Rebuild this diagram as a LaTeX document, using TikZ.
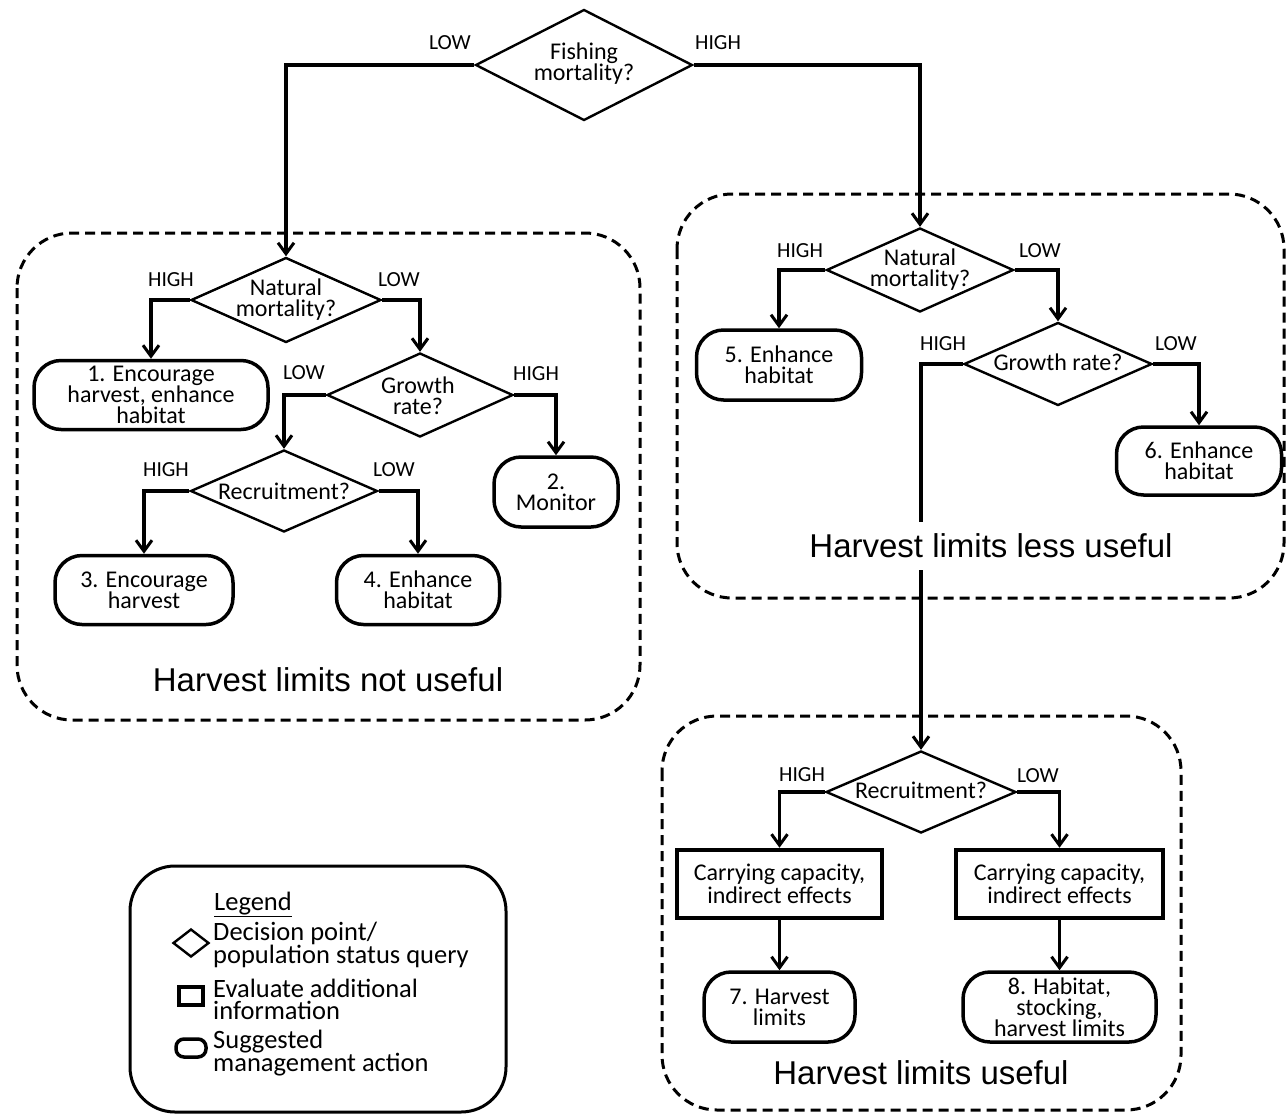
\documentclass[tikz,border=0pt]{standalone}
\usepackage{fontspec}
\setmainfont{Carlito}
\newfontfamily\titlefont{Liberation Sans}
\usetikzlibrary{shapes.geometric,arrows.meta}
\begin{document}
\begin{tikzpicture}[x=1pt,y=-1pt,
 dec/.style={diamond,draw,line width=2.4pt,inner sep=0pt},
 dtext/.style={inner sep=0pt,align=center,font=\fontsize{24}{21}\selectfont},
 act/.style={rectangle,draw,line width=3.5pt,rounded corners=27pt,inner sep=0pt,align=center,font=\fontsize{24}{21}\selectfont},
 info/.style={rectangle,draw,line width=4.5pt,inner sep=0pt,align=center,font=\fontsize{24}{23}\selectfont},
 lab/.style={font=\fontsize{21.5}{24}\selectfont,inner sep=0pt},
 ttl/.style={font=\titlefont\fontsize{33}{38}\selectfont,inner sep=3pt},
 conn/.style={line width=3.5pt,-{Straight Barb[length=11pt,width=16pt,line width=3pt]}},
 dbox/.style={line width=3pt,dash pattern=on 10pt off 6pt,rounded corners=55pt},
 leg/.style={font=\fontsize{26.5}{22}\selectfont,align=left,inner sep=0pt},
]
\useasboundingbox (0,0) rectangle (1287,1114);
\fill[white] (0,0) rectangle (1287,1114);

% dashed regions
\draw[dbox] (17,233) rectangle (640,720);
\draw[dbox] (677,194) rectangle (1284,598);
\draw[dbox] (662,716) rectangle (1181,1110);

% top decision
\node[dec,minimum width=217pt,minimum height=111pt] (fm) at (584,65) {};
\node[dtext] (fmt) at (584,64) {Fishing\\mortality?};
\node[lab] (lfmL) at (450,43) {LOW};
\node[lab] (lfmH) at (718,43) {HIGH};

% left region
\node[dec,minimum width=190pt,minimum height=85pt] (nm1) at (286,300) {};
\node[dtext] (nm1t) at (286,300) {Natural\\mortality?};
\node[lab] (lnm1H) at (171,280) {HIGH};
\node[lab] (lnm1L) at (399,280) {LOW};
\node[act,minimum width=234pt,minimum height=69pt] (a1) at (151,395) {1. Encourage\\harvest, enhance\\habitat};
\node[dec,minimum width=186pt,minimum height=84pt] (gr1) at (420,395) {};
\node[dtext] (gr1t) at (418,396) {Growth\\rate?};
\node[lab] (lgr1L) at (304,373) {LOW};
\node[lab] (lgr1H) at (536,374) {HIGH};
\node[act,minimum width=124pt,minimum height=70pt] (a2) at (556,492) {2.\\Monitor};
\node[dec,minimum width=187pt,minimum height=82pt] (rc1) at (284,491) {};
\node[dtext] (rc1t) at (284,491) {Recruitment?};
\node[lab] (lrc1H) at (166,470) {HIGH};
\node[lab] (lrc1L) at (394,470) {LOW};
\node[act,minimum width=178pt,minimum height=69pt] (a3) at (144,590) {3. Encourage\\harvest};
\node[act,minimum width=163pt,minimum height=69pt] (a4) at (418,590) {4. Enhance\\habitat};

% upper right region
\node[dec,minimum width=187pt,minimum height=84pt] (nm2) at (920,270) {};
\node[dtext] (nm2t) at (920,270) {Natural\\mortality?};
\node[lab] (lnm2H) at (800,251) {HIGH};
\node[lab] (lnm2L) at (1040,251) {LOW};
\node[act,minimum width=165pt,minimum height=70pt] (a5) at (779,365) {5. Enhance\\habitat};
\node[dec,minimum width=188pt,minimum height=83pt] (gr2) at (1058,364) {};
\node[dtext] (gr2t) at (1058,362) {Growth rate?};
\node[lab] (lgr2H) at (943,344) {HIGH};
\node[lab] (lgr2L) at (1176,344) {LOW};
\node[act,minimum width=165pt,minimum height=68pt] (a6) at (1199,461) {6. Enhance\\habitat};

% lower right region
\node[dec,minimum width=190pt,minimum height=82pt] (rc3) at (921,792) {};
\node[dtext] (rc3t) at (921,790) {Recruitment?};
\node[lab] (lrc3H) at (802,775) {HIGH};
\node[lab] (lrc3L) at (1038,776) {LOW};
\node[info,minimum width=205pt,minimum height=68pt] (b1) at (779.5,884) {Carrying capacity,\\indirect effects};
\node[info,minimum width=207pt,minimum height=68pt] (b2) at (1059.5,884) {Carrying capacity,\\indirect effects};
\node[act,minimum width=151pt,minimum height=70pt] (a7) at (779.5,1007) {7. Harvest\\limits};
\node[act,minimum width=193pt,minimum height=70pt] (a8) at (1059.5,1007) {8. Habitat,\\stocking,\\harvest limits};

% connectors
\draw[conn] (fm.west) -| (nm1.north);
\draw[conn] (fm.east) -| (nm2.north);
\draw[conn] (nm1.west) -| (a1.north);
\draw[conn] (nm1.east) -| (gr1.north);
\draw[conn] (gr1.west) -| (rc1.north);
\draw[conn] (gr1.east) -| (a2.north);
\draw[conn] (rc1.west) -| (a3.north);
\draw[conn] (rc1.east) -| (a4.north);
\draw[conn] (nm2.west) -| (a5.north);
\draw[conn] (nm2.east) -| (gr2.north);
\draw[conn] (gr2.east) -| (a6.north);
\draw[conn] (gr2.west) -| (rc3.north);
\draw[conn] (rc3.west) -| (b1.north);
\draw[conn] (rc3.east) -| (b2.north);
\draw[conn] (b1) -- (a7);
\draw[conn] (b2) -- (a8);

% titles
\node[ttl] (t1) at (328,680) {Harvest limits not useful};
\node[ttl,fill=white,inner ysep=12pt] (t2) at (991,546) {Harvest limits less useful};
\node[ttl] (t3) at (921,1073) {Harvest limits useful};

% legend
\draw[line width=3pt,rounded corners=45pt] (130,866) rectangle (506,1112);
\node[leg,anchor=base west] (lgt) at (214,910) {\underline{Legend}};
\node[diamond,draw,line width=2.4pt,minimum width=36pt,minimum height=28pt,inner sep=0pt] (ld) at (191,943) {};
\node[leg,anchor=west] (ldt) at (213,945) {Decision point/\\population status query};
\node[rectangle,draw,line width=4pt,minimum width=24pt,minimum height=18pt,inner sep=0pt] (lr) at (191,996) {};
\node[leg,anchor=west] (lrt) at (213,999) {Evaluate additional\\information};
\node[rectangle,draw,line width=3.5pt,rounded corners=8pt,minimum width=30pt,minimum height=18pt,inner sep=0pt] (lp) at (191,1048) {};
\node[leg,anchor=west] (lpt) at (213,1053) {Suggested\\management action};
\end{tikzpicture}
\end{document}
